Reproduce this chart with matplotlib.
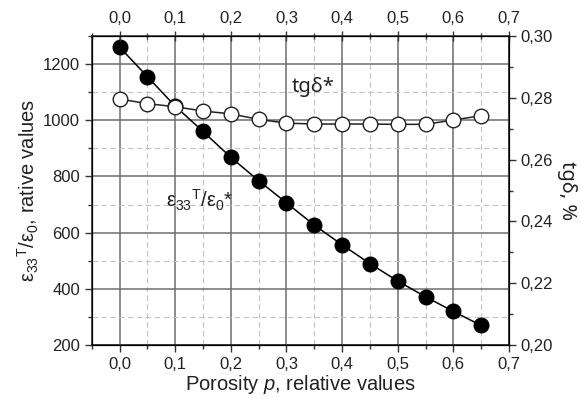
import matplotlib
matplotlib.use("Agg")
import matplotlib.pyplot as plt
from matplotlib.ticker import MultipleLocator, FuncFormatter

plt.rcParams['font.family'] = ['Liberation Sans', 'DejaVu Sans']
plt.rcParams['mathtext.fontset'] = 'custom'
plt.rcParams['mathtext.rm'] = 'Liberation Sans'
plt.rcParams['mathtext.it'] = 'Liberation Sans:italic'
plt.rcParams['mathtext.bf'] = 'Liberation Sans:bold'

porosity = [0.0, 0.05, 0.10, 0.15, 0.20, 0.25, 0.30, 0.35, 0.40, 0.45, 0.50, 0.55, 0.60, 0.65]
eps_rel = [1260, 1155, 1050, 960, 868, 785, 706, 627, 557, 490, 428, 372, 320, 270]
tg_delta = [0.2796, 0.2781, 0.2771, 0.2757, 0.2748, 0.2730, 0.2718, 0.2715, 0.2715, 0.2715, 0.2714, 0.2714, 0.2728, 0.2742]

fig = plt.figure(figsize=(5.81, 3.99), dpi=100)
ax = fig.add_axes([0.158, 0.135, 0.718, 0.775])
ax.set_xlim(-0.05, 0.7)
ax.set_ylim(200, 1300)

ax.xaxis.set_major_locator(MultipleLocator(0.1))
ax.xaxis.set_minor_locator(MultipleLocator(0.05))
ax.yaxis.set_major_locator(MultipleLocator(200))
ax.yaxis.set_minor_locator(MultipleLocator(100))
comma1 = FuncFormatter(lambda v, p: f"{v:.1f}".replace('.', ','))
ax.xaxis.set_major_formatter(comma1)

ax.grid(which='major', color='#6e6e6e', linewidth=1.1)
ax.grid(which='minor', color='#c4c4c4', linewidth=0.8, linestyle=(0, (5, 3)))
ax.set_axisbelow(True)

for s in ax.spines.values():
    s.set_linewidth(1.1)
    s.set_color('#2a2a2a')

TS = 12
ax.tick_params(which='major', direction='out', length=5, width=1, labelsize=TS, colors='#333333', labelcolor='#222222')
ax.tick_params(which='minor', direction='out', length=3, width=1, colors='#333333')

ax.plot(porosity, eps_rel, color='black', linewidth=1.1, marker='o', markersize=10.5,
        markerfacecolor='black', markeredgecolor='black', zorder=3)

ax2 = ax.twinx()
ax2.set_ylim(0.20, 0.30)
ax2.yaxis.set_major_locator(MultipleLocator(0.02))
ax2.yaxis.set_minor_locator(MultipleLocator(0.01))
ax2.yaxis.set_major_formatter(FuncFormatter(lambda v, p: f"{v:.2f}".replace('.', ',')))
ax2.tick_params(which='major', direction='out', length=5, width=1, labelsize=TS, colors='#333333', labelcolor='#222222')
ax2.tick_params(which='minor', direction='out', length=3, width=1, colors='#333333')
ax2.plot(porosity, tg_delta, color='#222222', linewidth=1.1, marker='o', markersize=10.5,
         markerfacecolor='white', markeredgecolor='#222222', zorder=3)

ax3 = ax.twiny()
ax3.set_xlim(-0.05, 0.7)
ax3.xaxis.set_major_locator(MultipleLocator(0.1))
ax3.xaxis.set_minor_locator(MultipleLocator(0.05))
ax3.xaxis.set_major_formatter(comma1)
ax3.tick_params(which='major', direction='inout', length=7, width=1, labelsize=TS, colors='#333333', labelcolor='#222222')
ax3.tick_params(which='minor', direction='inout', length=4, width=1, colors='#333333')

LS = 14.5
ax.set_xlabel(r'Porosity $\mathit{p}$, relative values', fontsize=LS, color='#222222', labelpad=1)
ax.set_ylabel(r'$\mathrm{ε}_{33}{}^{\mathrm{T}}\mathrm{/ε}_{0}$, rative values', fontsize=LS, color='#222222', labelpad=1)
ax2.set_ylabel('tgδ, %', fontsize=LS, color='#222222', rotation=270, labelpad=17,
               family=['Noto Sans', 'DejaVu Sans'])

ax.text(0.31, 1100, 'tgδ*', fontsize=14.5, color='#222222', zorder=4,
        family=['Noto Sans', 'DejaVu Sans'])
ax.text(0.083, 690, r'$\mathrm{ε}_{33}{}^{\mathrm{T}}\mathrm{/ε}_{0}$*', fontsize=14.5, color='#222222', zorder=4)

fig.savefig('out.png', dpi=100)
